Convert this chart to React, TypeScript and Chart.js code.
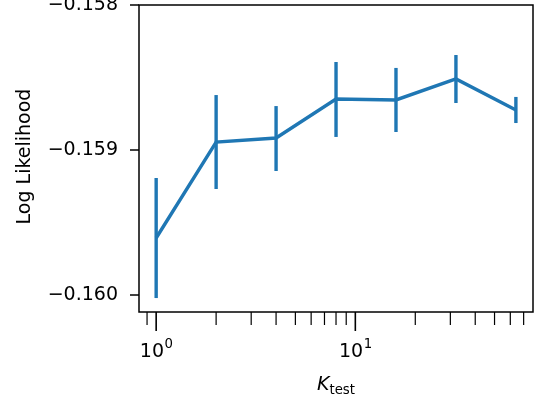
import React, { useEffect, useRef } from 'react';
import { Chart, registerables } from 'chart.js';

Chart.register(...registerables);

// ---- data ----
const kValues = [1, 2, 4, 8, 16, 32, 64];
const meanLL = [-0.159607, -0.158945, -0.158917, -0.158648, -0.158655, -0.15851, -0.158724];
const lowerLL = [-0.160021, -0.159269, -0.159145, -0.15891, -0.158876, -0.158676, -0.158814];
const upperLL = [-0.159193, -0.158621, -0.158697, -0.158393, -0.158434, -0.158345, -0.158634];
const yTicks = [-0.16, -0.159, -0.158];
const xMajorTicks = [1, 10];
const xMinorTicks = [0.9, 2, 3, 4, 5, 6, 7, 8, 9, 20, 30, 40, 50, 60, 70];
const xTickBase = ['10', '10'];
const xTickExp = ['0', '1'];
const yLabel = 'Log Likelihood';
const xLabelMain = 'K';
const xLabelSub = 'test';

const BLUE = '#1f77b4';
const FONT = 'DejaVu Sans';
const LW = 3.4;

const zeroPad = (s: any) => {
  s.paddingTop = 0;
  s.paddingBottom = 0;
  s.paddingLeft = 0;
  s.paddingRight = 0;
};

const decorPlugin = {
  id: 'decor',
  afterDatasetsDraw(chart: any) {
    const ctx = chart.ctx;
    const xs = chart.scales.x;
    const ys = chart.scales.y;
    ctx.save();
    ctx.strokeStyle = BLUE;
    ctx.lineWidth = LW;
    ctx.lineCap = 'butt';
    kValues.forEach((k, i) => {
      const px = xs.getPixelForValue(k);
      ctx.beginPath();
      ctx.moveTo(px, ys.getPixelForValue(lowerLL[i]));
      ctx.lineTo(px, ys.getPixelForValue(upperLL[i]));
      ctx.stroke();
    });
    ctx.restore();
  },
  afterDraw(chart: any) {
    const ctx = chart.ctx;
    const a = chart.chartArea;
    const xs = chart.scales.x;
    const ys = chart.scales.y;
    ctx.save();
    ctx.strokeStyle = '#000';
    ctx.lineWidth = 1.5;
    ctx.strokeRect(a.left, a.top, a.right - a.left, a.bottom - a.top);
    // y ticks
    yTicks.forEach((v) => {
      const py = ys.getPixelForValue(v);
      ctx.beginPath();
      ctx.moveTo(a.left - 9, py);
      ctx.lineTo(a.left, py);
      ctx.stroke();
    });
    // x ticks
    xs.ticks.forEach((t: any) => {
      const px = xs.getPixelForValue(t.value);
      const major = xMajorTicks.includes(t.value);
      ctx.lineWidth = major ? 1.6 : 1.2;
      ctx.beginPath();
      ctx.moveTo(px, a.bottom);
      ctx.lineTo(px, a.bottom + (major ? 19 : 13));
      ctx.stroke();
    });
    // x tick labels (mathtext style 10^n)
    ctx.fillStyle = '#000';
    ctx.textBaseline = 'alphabetic';
    ctx.textAlign = 'left';
    xMajorTicks.forEach((v, i) => {
      const px = xs.getPixelForValue(v);
      ctx.font = `19px "${FONT}"`;
      const wb = ctx.measureText(xTickBase[i]).width;
      ctx.font = `13.3px "${FONT}"`;
      const we = ctx.measureText(xTickExp[i]).width;
      const x0 = px - (wb + we) / 2;
      ctx.font = `19px "${FONT}"`;
      ctx.fillText(xTickBase[i], x0, 357);
      ctx.font = `13.3px "${FONT}"`;
      ctx.fillText(xTickExp[i], x0 + wb + 0.5, 348);
    });
    // axis titles
    ctx.save();
    ctx.translate(30, (a.top + a.bottom) / 2 - 2);
    ctx.rotate(-Math.PI / 2);
    ctx.font = `19px "${FONT}"`;
    ctx.textAlign = 'center';
    ctx.textBaseline = 'alphabetic';
    ctx.fillText(yLabel, 0, 0);
    ctx.restore();

    ctx.textBaseline = 'alphabetic';
    ctx.textAlign = 'left';
    ctx.font = `italic 19px "${FONT}"`;
    const wK = ctx.measureText(xLabelMain).width;
    ctx.font = `13.3px "${FONT}"`;
    const wS = ctx.measureText(xLabelSub).width;
    const cx = (a.left + a.right) / 2;
    const x0 = cx - (wK + wS) / 2;
    ctx.font = `italic 19px "${FONT}"`;
    ctx.fillText(xLabelMain, x0, 390);
    ctx.font = `13.3px "${FONT}"`;
    ctx.fillText(xLabelSub, x0 + wK, 394);
    ctx.restore();
  },
};

export default function App() {
  const ref = useRef<HTMLCanvasElement>(null);
  useEffect(() => {
    if (!ref.current) return;
    const chart = new Chart(ref.current, {
      type: 'line',
      data: {
        datasets: [
          {
            data: kValues.map((k, i) => ({ x: k, y: meanLL[i] })),
            borderColor: BLUE,
            borderWidth: LW,
            pointRadius: 0,
            tension: 0,
            fill: false,
          },
        ],
      },
      options: {
        responsive: false,
        animation: false,
        layout: { padding: { left: 0, right: 5, top: 5, bottom: 0 } },
        plugins: { legend: { display: false }, tooltip: { enabled: false } },
        scales: {
          x: {
            type: 'logarithmic',
            min: 0.82,
            max: 78,
            afterBuildTicks: (s: any) => {
              s.ticks = [...xMinorTicks, ...xMajorTicks]
                .sort((p, q) => p - q)
                .map((v) => ({ value: v, major: xMajorTicks.includes(v) }));
            },
            afterFit: (s: any) => {
              s.height = 90;
              zeroPad(s);
            },
            grid: { display: true, drawOnChartArea: false, drawTicks: false },
            border: { display: false },
            ticks: {
              autoSkip: false,
              maxRotation: 0,
              minRotation: 0,
              padding: 29,
              color: '#000',
              font: { family: FONT, size: 19 },
              callback: () => '',
            },
          },
          y: {
            type: 'linear',
            min: -0.1601172,
            max: -0.158,
            afterBuildTicks: (s: any) => {
              s.ticks = yTicks.map((v) => ({ value: v }));
            },
            afterFit: (s: any) => {
              s.width = 139;
              zeroPad(s);
            },
            grid: { display: true, drawOnChartArea: false, drawTicks: false },
            border: { display: false },
            ticks: {
              padding: 21,
              color: '#000',
              font: { family: FONT, size: 19 },
              callback: (v: any) => '\u2212' + Math.abs(Number(v)).toFixed(3),
            },
          },
        },
      },
      plugins: [decorPlugin],
    } as any);
    return () => chart.destroy();
  }, []);
  return (
    <div style={{ position: 'absolute', left: 0, top: 0, width: 538, height: 402, background: '#fff' }}>
      <canvas ref={ref} width={538} height={402} style={{ width: 538, height: 402 }} />
    </div>
  );
}
